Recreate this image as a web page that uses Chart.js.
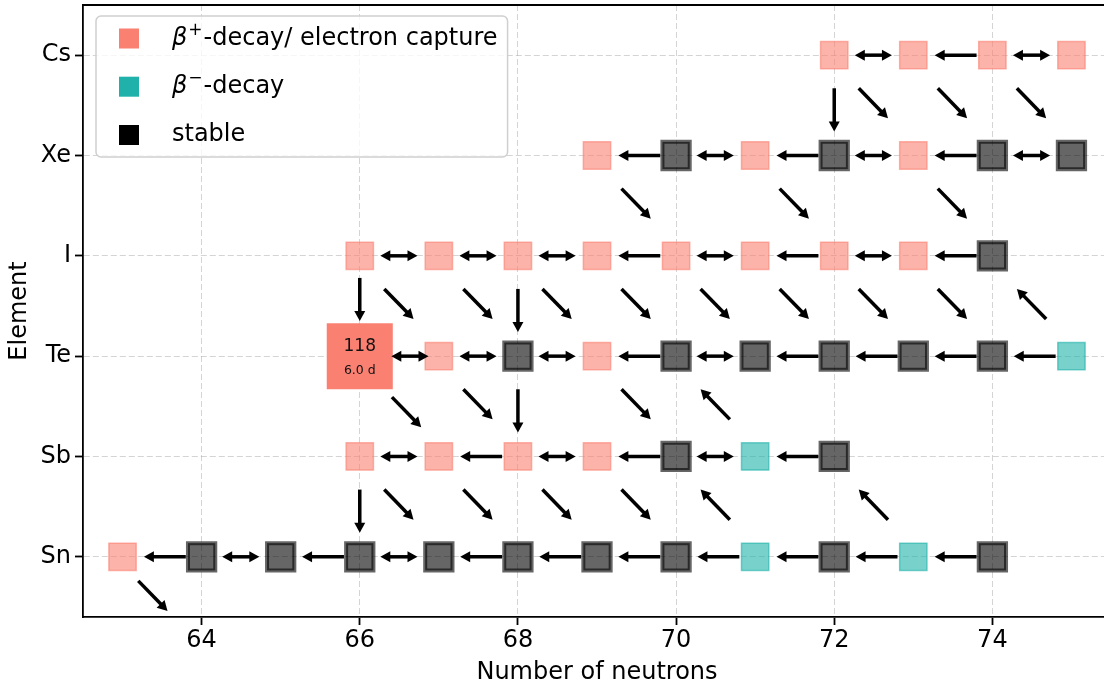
<!DOCTYPE html>
<html>
<head>
<meta charset="utf-8">
<script src="https://cdn.jsdelivr.net/npm/chart.js@4.4.0/dist/chart.umd.min.js"></script>
<style>
  html, body { margin: 0; padding: 0; overflow: hidden; background: #fff; }
  #wrap { width: 1120px; height: 689px; }
</style>
</head>
<body>
<div id="wrap"><canvas id="chart" width="1120" height="689"></canvas></div>
<script>
// element rows, bottom to top
const elements = ["Sn", "Sb", "Te", "I", "Xe", "Cs"];
const xTicks = [64, 66, 68, 70, 72, 74];

// nuclides as [element, neutrons]
const betaPlus = [
  ["Sn", 63],
  ["Sb", 66], ["Sb", 67], ["Sb", 68], ["Sb", 69],
  ["Te", 67], ["Te", 69],
  ["I", 66], ["I", 67], ["I", 68], ["I", 69], ["I", 70], ["I", 71], ["I", 72], ["I", 73],
  ["Xe", 69], ["Xe", 71], ["Xe", 73],
  ["Cs", 72], ["Cs", 73], ["Cs", 74], ["Cs", 75]
];
const betaMinus = [["Sn", 71], ["Sn", 73], ["Sb", 71], ["Te", 75]];
const stable = [
  ["Sn", 64], ["Sn", 65], ["Sn", 66], ["Sn", 67], ["Sn", 68], ["Sn", 69], ["Sn", 70], ["Sn", 72], ["Sn", 74],
  ["Sb", 70], ["Sb", 72],
  ["Te", 68], ["Te", 70], ["Te", 71], ["Te", 72], ["Te", 73], ["Te", 74],
  ["I", 74],
  ["Xe", 70], ["Xe", 72], ["Xe", 74], ["Xe", 75]
];

// the marked nuclide
const highlight = ["Te", 66];
const highlightMass = "118";
const highlightHalfLife = "6.0 d";

// links between nuclides, [element, N]
const bothWays = [            // N <-> N+1
  ["Cs", 72], ["Cs", 74],
  ["Xe", 70], ["Xe", 72], ["Xe", 74],
  ["I", 66], ["I", 67], ["I", 68], ["I", 70], ["I", 72],
  ["Te", 66], ["Te", 67], ["Te", 68], ["Te", 70],
  ["Sb", 66], ["Sb", 68], ["Sb", 70],
  ["Sn", 64], ["Sn", 66]
];
const toLower = [             // N+1 -> N
  ["Cs", 73],
  ["Xe", 69], ["Xe", 71], ["Xe", 73],
  ["I", 69], ["I", 71], ["I", 73],
  ["Te", 69], ["Te", 71], ["Te", 72], ["Te", 73], ["Te", 74],
  ["Sb", 67], ["Sb", 69], ["Sb", 71],
  ["Sn", 63], ["Sn", 65], ["Sn", 67], ["Sn", 68], ["Sn", 69], ["Sn", 70], ["Sn", 71], ["Sn", 72], ["Sn", 73]
];
const downward = [["Cs", 72], ["I", 66], ["I", 68], ["Te", 68], ["Sb", 66]];   // Z -> Z-1, same N
const plusLinks = [           // (Z, N) -> (Z-1, N+1)
  ["Cs", 72], ["Cs", 73], ["Cs", 74],
  ["Xe", 69], ["Xe", 71], ["Xe", 73],
  ["I", 66], ["I", 67], ["I", 68], ["I", 69], ["I", 70], ["I", 71], ["I", 72], ["I", 73],
  ["Te", 66], ["Te", 67], ["Te", 69],
  ["Sb", 66], ["Sb", 67], ["Sb", 68], ["Sb", 69],
  ["Sn", 63]
];
const minusLinks = [["Te", 75], ["Sb", 71], ["Sn", 71], ["Sn", 73]];   // (Z, N) -> (Z+1, N-1)

const FONT = "DejaVu Sans";
const FS = 24;
const zOf = el => elements.indexOf(el);
const toPoint = ([el, n]) => ({ x: n, y: zOf(el) });
const key = (z, n) => z + ":" + n;
const hlKey = key(zOf(highlight[0]), highlight[1]);

// build arrow segments in data units
const arrows = [];
bothWays.forEach(([el, n]) => {
  const z = zOf(el);
  arrows.push({ x1: n + 0.26, y1: z, x2: n + 0.73, y2: z, both: true, from: key(z, n), to: key(z, n + 1) });
});
toLower.forEach(([el, n]) => {
  const z = zOf(el);
  arrows.push({ x1: n + 0.8, y1: z, x2: n + 0.27, y2: z, from: key(z, n + 1), to: key(z, n) });
});
downward.forEach(([el, n]) => {
  const z = zOf(el);
  arrows.push({ x1: n, y1: z - 0.33, x2: n, y2: z - 0.76, from: key(z, n), to: key(z - 1, n) });
});
plusLinks.forEach(([el, n]) => {
  const z = zOf(el);
  arrows.push({ x1: n + 0.31, y1: z - 0.33, x2: n + 0.68, y2: z - 0.63, from: key(z, n), to: key(z - 1, n + 1) });
});
minusLinks.forEach(([el, n]) => {
  const z = zOf(el);
  arrows.push({ x1: n - 1 + 0.68, y1: z + 1 - 0.63, x2: n - 1 + 0.31, y2: z + 1 - 0.33, from: key(z, n), to: key(z + 1, n - 1) });
});

function drawArrow(ctx, x1, y1, x2, y2, both) {
  const HL = 10, HW = 5.5;
  const len = Math.hypot(x2 - x1, y2 - y1);
  const ux = (x2 - x1) / len, uy = (y2 - y1) / len;
  const head = (tx, ty, dx, dy) => {
    const bx = tx - dx * HL, by = ty - dy * HL;
    ctx.beginPath();
    ctx.moveTo(tx, ty);
    ctx.lineTo(bx - dy * HW, by + dx * HW);
    ctx.lineTo(bx + dy * HW, by - dx * HW);
    ctx.closePath();
    ctx.fill();
  };
  ctx.lineWidth = 3.5;
  ctx.beginPath();
  ctx.moveTo(both ? x1 + ux * (HL - 1) : x1, both ? y1 + uy * (HL - 1) : y1);
  ctx.lineTo(x2 - ux * (HL - 1), y2 - uy * (HL - 1));
  ctx.stroke();
  head(x2, y2, ux, uy);
  if (both) head(x1, y1, -ux, -uy);
}

const decayPlugin = {
  id: "decayPlugin",
  afterDatasetsDraw(chart) {
    const { ctx, chartArea, scales: { x, y } } = chart;
    ctx.save();
    ctx.fillStyle = "#000";
    ctx.strokeStyle = "#000";
    arrows.forEach(a => {
      let x1 = x.getPixelForValue(a.x1), y1 = y.getPixelForValue(a.y1);
      let x2 = x.getPixelForValue(a.x2), y2 = y.getPixelForValue(a.y2);
      const len = Math.hypot(x2 - x1, y2 - y1);
      const ux = (x2 - x1) / len, uy = (y2 - y1) / len;
      let shift = (a.from === hlKey ? 11 : 0) - (a.to === hlKey ? 11 : 0);
      if (y2 + uy * shift > chartArea.bottom - 6) shift = (chartArea.bottom - 6 - y2) / uy;
      x1 += ux * shift; y1 += uy * shift; x2 += ux * shift; y2 += uy * shift;
      drawArrow(ctx, x1, y1, x2, y2, a.both);
    });

    // labels inside the marked nuclide
    const hx = x.getPixelForValue(highlight[1]);
    const hy = y.getPixelForValue(zOf(highlight[0]));
    ctx.fillStyle = "#111";
    ctx.textAlign = "center";
    ctx.textBaseline = "middle";
    ctx.font = `17px "${FONT}"`;
    ctx.fillText(highlightMass, hx, hy - 10);
    ctx.font = `12.5px "${FONT}"`;
    ctx.fillText(highlightHalfLife, hx, hy + 15);
    ctx.restore();
  },
  afterDraw(chart) {
    const { ctx, chartArea } = chart;
    ctx.save();
    // top and right spines
    ctx.strokeStyle = "#000";
    ctx.lineWidth = 1.8;
    ctx.beginPath();
    ctx.moveTo(chartArea.left - 0.9, chartArea.top);
    ctx.lineTo(chartArea.right, chartArea.top);
    ctx.lineTo(chartArea.right, chartArea.bottom);
    ctx.stroke();

    // legend
    const sets = chart.data.datasets.slice(0, 3);
    const rowY = [38.5, 86.7, 135];
    const left = 96, top = 16, textX = 172;
    const parts = sets.map(ds => {
      const lbl = ds.label;
      if (lbl[0] === "β") {
        const sup = lbl[1] === "⁺" ? "+" : "\u2212";
        return { greek: "β", sup, rest: lbl.slice(2) };
      }
      return { rest: lbl };
    });
    let maxRight = 0;
    parts.forEach(p => {
      let w = 0;
      if (p.greek) {
        ctx.font = `italic ${FS}px "${FONT}"`; w += ctx.measureText(p.greek).width + 1;
        ctx.font = `17px "${FONT}"`; w += ctx.measureText(p.sup).width + 1;
      }
      ctx.font = `${FS}px "${FONT}"`; w += ctx.measureText(p.rest).width;
      maxRight = Math.max(maxRight, textX + w);
    });
    const right = maxRight + 10, bottom = 157;
    ctx.fillStyle = "rgba(255,255,255,0.8)";
    ctx.strokeStyle = "#cfcfcf";
    ctx.lineWidth = 1.5;
    ctx.beginPath();
    ctx.roundRect(left, top, right - left, bottom - top, 5);
    ctx.fill();
    ctx.stroke();

    parts.forEach((p, i) => {
      const cy = rowY[i];
      ctx.fillStyle = sets[i].legendColor;
      ctx.fillRect(119, cy - 10, 20, 20);
      ctx.fillStyle = "#000";
      ctx.textAlign = "left";
      ctx.textBaseline = "middle";
      let tx = textX;
      if (p.greek) {
        ctx.font = `italic ${FS}px "${FONT}"`;
        ctx.fillText(p.greek, tx, cy);
        tx += ctx.measureText(p.greek).width + 1;
        ctx.font = `17px "${FONT}"`;
        ctx.fillText(p.sup, tx, cy - 8);
        tx += ctx.measureText(p.sup).width + 1;
      }
      ctx.font = `${FS}px "${FONT}"`;
      ctx.fillText(p.rest, tx, cy);
    });
    ctx.restore();
  }
};

Chart.defaults.color = "#000";
Chart.defaults.font.family = FONT;

const gridCommon = {
  color: "rgba(176,176,176,0.55)",
  lineWidth: 1,
  tickColor: "#000",
  tickWidth: 1.8,
  tickLength: 8
};

new Chart(document.getElementById("chart"), {
  type: "scatter",
  data: {
    datasets: [
      {
        label: "β⁺-decay/ electron capture",
        data: betaPlus.map(toPoint),
        legendColor: "rgb(250,128,114)",
        pointStyle: "rect",
        pointRadius: 19.3,
        backgroundColor: "rgba(250,128,114,0.6)",
        borderColor: "rgba(250,128,114,0.6)",
        borderWidth: 1.5
      },
      {
        label: "β⁻-decay",
        data: betaMinus.map(toPoint),
        legendColor: "rgb(32,178,170)",
        pointStyle: "rect",
        pointRadius: 19.3,
        backgroundColor: "rgba(32,178,170,0.6)",
        borderColor: "rgba(32,178,170,0.6)",
        borderWidth: 1.5
      },
      {
        label: "stable",
        data: stable.map(toPoint),
        legendColor: "#000",
        pointStyle: "rect",
        pointRadius: 19.3,
        backgroundColor: "rgba(0,0,0,0.6)",
        borderColor: "rgba(0,0,0,0.6)",
        borderWidth: 4
      },
      {
        label: highlightMass,
        data: [toPoint(highlight)],
        pointStyle: "rect",
        pointRadius: 46.7,
        backgroundColor: "rgb(250,128,114)",
        borderWidth: 0
      }
    ]
  },
  options: {
    responsive: false,
    animation: false,
    events: [],
    layout: { autoPadding: false, padding: { top: 5, right: 9, bottom: 0, left: 0 } },
    plugins: { legend: { display: false }, tooltip: { enabled: false } },
    scales: {
      x: {
        type: "linear",
        min: 62.5,
        max: 75.5,
        afterBuildTicks: s => { s.ticks = xTicks.map(v => ({ value: v })); },
        afterFit: s => { s.height = 72; s.paddingLeft = 0; s.paddingRight = 0; },
        grid: gridCommon,
        border: { display: true, color: "#000", width: 1.8, dash: [6, 3] },
        ticks: { font: { size: FS }, padding: 1, maxRotation: 0 },
        title: { display: true, text: "Number of neutrons", font: { size: FS }, padding: { top: 0, bottom: 2 } }
      },
      y: {
        type: "linear",
        min: -0.6,
        max: 5.5,
        afterBuildTicks: s => { s.ticks = elements.map((e, i) => ({ value: i })); },
        afterFit: s => { s.width = 83; s.paddingTop = 0; s.paddingBottom = 0; },
        grid: gridCommon,
        border: { display: true, color: "#000", width: 1.8, dash: [6, 3] },
        ticks: { font: { size: FS }, padding: 4, callback: v => elements[v] },
        title: { display: true, text: "Element", font: { size: FS }, padding: { top: 5, bottom: 0 } }
      }
    }
  },
  plugins: [decayPlugin]
});
</script>
</body>
</html>
